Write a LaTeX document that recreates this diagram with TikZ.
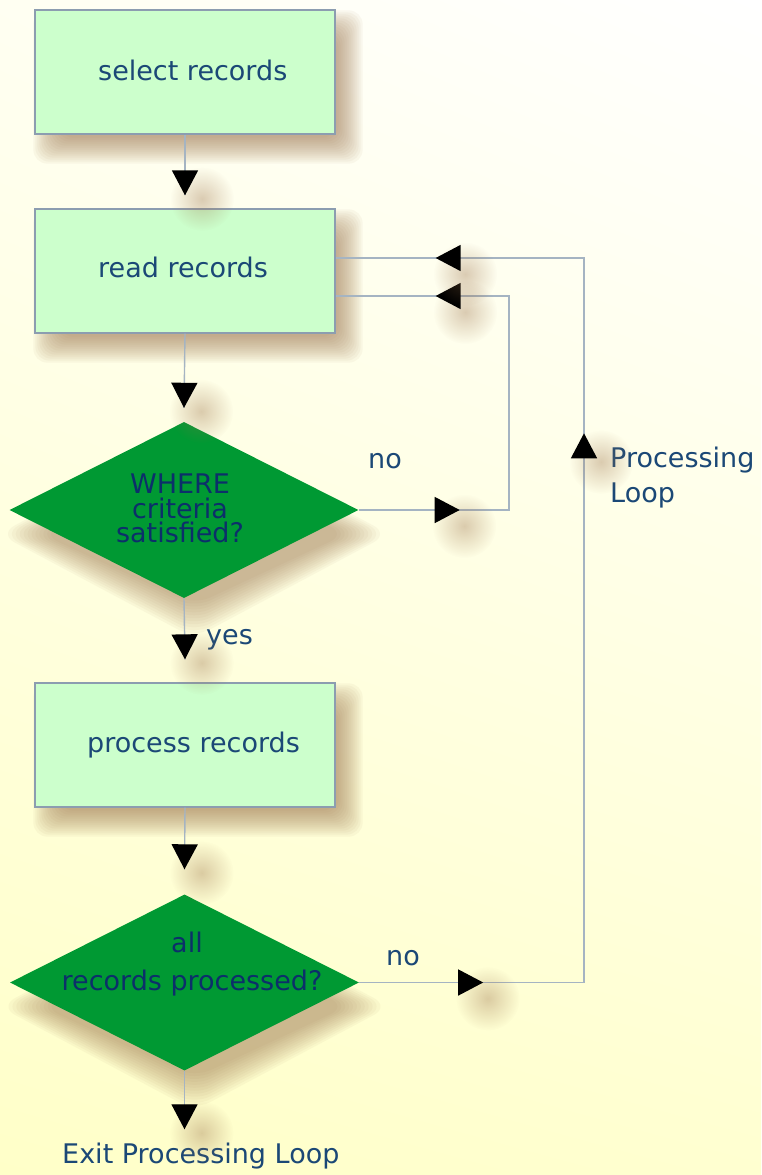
\documentclass[tikz,border=0pt]{standalone}
\usepackage{fontspec}
\setmainfont{DejaVu Sans}
\usetikzlibrary{shapes.geometric,arrows.meta,decorations.markings,fadings,shadings}
\definecolor{boxfill}{HTML}{CCFFCC}
\definecolor{boxline}{HTML}{8C9DB0}
\definecolor{dgreen}{HTML}{009933}
\definecolor{txtblue}{HTML}{1B4876}
\definecolor{dtxt}{HTML}{0C2F6A}
\definecolor{wire}{HTML}{A5B4C2}
\definecolor{shad}{HTML}{9A7048}
\definecolor{bgUL}{HTML}{FFFFF2}
\definecolor{bgUR}{HTML}{FFFFFF}
\definecolor{bgLL}{HTML}{FFFFC8}
\definecolor{bgLR}{HTML}{FFFFD0}
\pgfdeclarelayer{bglayer}
\pgfdeclarelayer{shadelayer}
\pgfsetlayers{bglayer,shadelayer,main}
\tikzfading[name=fuzzyspot, inner color=transparent!20, outer color=transparent!100]
\newcommand\tipmark{%
  \begin{pgfscope}\pgftransformshift{\pgfpoint{-12.5pt}{0pt}}\pgftransformresetnontranslations
  \fill[shad, path fading=fuzzyspot, fill opacity=.45] (17pt,-16pt) circle (32pt);\end{pgfscope}%
  \arrow{Triangle[length=25pt,width=26pt,black]}}
% soft shadow behind a box node
\newcommand\boxshade[1]{%
  \foreach \g in {14,12,...,-12}{%
    \pgfmathsetmacro\xa{13-\g}\pgfmathsetmacro\ya{-15+\g}%
    \pgfmathsetmacro\xb{13+\g}\pgfmathsetmacro\yb{-15-\g}%
    \fill[shad, fill opacity=.055, rounded corners=14pt]
      ([shift={(\xa pt,\ya pt)}]#1.north west) rectangle ([shift={(\xb pt,\yb pt)}]#1.south east);}}
% soft shadow behind a diamond node
\newcommand\diamondshade[1]{%
  \foreach \g in {16,13,...,-17}{%
    \pgfmathsetmacro\hw{174.5+1.3*\g}\pgfmathsetmacro\hh{88+\g}%
    \pgfmathsetmacro\xl{10-\hw}\pgfmathsetmacro\xr{10+\hw}%
    \pgfmathsetmacro\yt{-24+\hh}\pgfmathsetmacro\yb{-24-\hh}%
    \fill[shad, fill opacity=.05, rounded corners=18pt]
      ([shift={(\xl pt,-24pt)}]#1.center) -- ([shift={(10pt,\yt pt)}]#1.center)
      -- ([shift={(\xr pt,-24pt)}]#1.center) -- ([shift={(10pt,\yb pt)}]#1.center) -- cycle;}}
\begin{document}
\begin{tikzpicture}[x=1pt,y=-1pt,
  font=\fontsize{27}{32}\selectfont,
  boxnode/.style={draw=boxline, line width=1.3pt, fill=boxfill, minimum width=300pt,
    minimum height=124pt, inner sep=0pt},
  decision/.style={diamond, fill=dgreen, minimum width=349pt, minimum height=176pt,
    inner sep=0pt},
  lbl/.style={text=txtblue, inner sep=0pt, anchor=base west},
  qlbl/.style={text=dtxt, inner sep=0pt, anchor=base},
  flow/.style={draw=wire, line width=1.4pt, postaction={decorate}},
]
\useasboundingbox (0,0) rectangle (761,1175);
\begin{pgfonlayer}{bglayer}
\shade[upper left=bgUL, upper right=bgUR, lower left=bgLL, lower right=bgLR]
  (0,0) rectangle (761,1175);
\end{pgfonlayer}

\node[boxnode] (b1) at (185,72) {};
\node[boxnode] (b2) at (185,271) {};
\node[decision] (d1) at (184,510) {};
\node[boxnode] (b3) at (185,745) {};
\node[decision] (d2) at (184.5,982.5) {};

\begin{pgfonlayer}{shadelayer}
\boxshade{b1}
\boxshade{b2}
\boxshade{b3}
\diamondshade{d1}
\diamondshade{d2}
\end{pgfonlayer}

\node[lbl] (t1) at (98,80) {select records};
\node[lbl] (t2) at (98,277) {read records};
\node[lbl] (t3) at (87,752) {process records};
\node[qlbl] (q1a) at (180,493) {WHERE};
\node[qlbl] (q1b) at (180,518) {criteria};
\node[qlbl] (q1c) at (180,542) {satisfied?};
\node[qlbl] (q2a) at (187,952) {all};
\node[qlbl] (q2b) at (192,990) {records processed?};
\node[lbl] (no1) at (368,468) {no};
\node[lbl] (yes) at (206,644) {yes};
\node[lbl] (no2) at (386,965) {no};
\node[lbl] (pl1) at (610,467) {Processing};
\node[lbl] (pl2) at (610,502) {Loop};
\node[lbl] (exit) at (62,1163) {Exit Processing Loop};

\coordinate (in1) at ([yshift=13pt]b2.east);
\coordinate (in2) at ([yshift=-25pt]b2.east);
\coordinate (colA) at (509,0);
\coordinate (colB) at (584,0);
\coordinate (exitin) at (exit.north -| d2.south);

\draw[flow, decoration={markings, mark=at position 0.9999 with {\tipmark}}]
  (b1.south) -- ([yshift=13pt]b2.north);
\draw[flow, decoration={markings, mark=at position 0.9999 with {\tipmark}}]
  (b2.south) -- ([yshift=14pt]d1.north);
\draw[flow, decoration={markings, mark=at position 0.9999 with {\tipmark}}]
  (d1.south) -- ([yshift=23pt]b3.north);
\draw[flow, decoration={markings, mark=at position 0.9999 with {\tipmark}}]
  (b3.south) -- ([yshift=25pt]d2.north);
\draw[flow, decoration={markings, mark=at position 0.9999 with {\tipmark}}]
  (d2.south) -- ([yshift=13pt]exitin);

\draw[flow, decoration={markings, mark=at position 101pt with {\tipmark},
    mark=at position -100pt with {\tipmark}}]
  (d1.east) -| (colA |- in2) -- (in2);
\draw[flow, decoration={markings, mark=at position 124pt with {\tipmark},
    mark=at position 774pt with {\tipmark}, mark=at position -100pt with {\tipmark}}]
  (d2.east) -| (colB |- in1) -- (in1);
\end{tikzpicture}
\end{document}
